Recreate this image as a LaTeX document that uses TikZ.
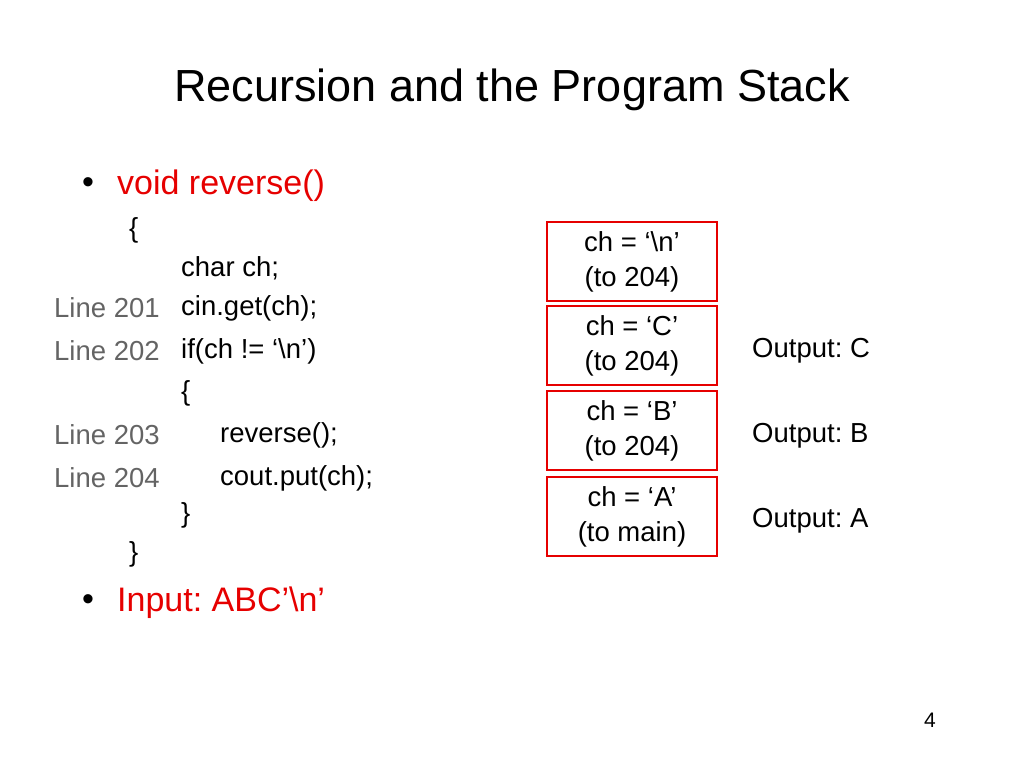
\documentclass[tikz,border=0pt]{standalone}
\usepackage{fontspec}
\setmainfont{Liberation Sans}
\frenchspacing
\definecolor{pred}{RGB}{230,0,0}
\definecolor{lgray}{RGB}{100,100,100}
\begin{document}
\begin{tikzpicture}[x=1pt,y=-1pt,
  code/.style={anchor=west,inner sep=0,font=\fontsize{27.5}{30}\selectfont},
  lbl/.style={code,text=lgray},
  red/.style={anchor=west,inner sep=0,text=pred,font=\fontsize{34}{38}\selectfont},
  frame/.style={draw=pred,line width=2.5pt,minimum width=170,minimum height=79,align=center,inner sep=0,font=\fontsize{27.5}{35}\selectfont},
  outl/.style={code}]
\useasboundingbox (0,0) rectangle (1024,768);
\node[inner sep=0,font=\fontsize{45}{48}\selectfont] (title) at (512,90) {Recursion and the Program Stack};
\node[red,text=black] (b1) at (82,186) {\textbullet};
\node[red] (v) at (117,186) {void reverse()};
\node[code] (o1) at (129,230) {\{};
\node[code] (c1) at (181,268) {char ch;};
\node[lbl] (l201) at (54,308) {Line 201};
\node[code] (c2) at (181,308) {cin.get(ch);};
\node[lbl] (l202) at (54,351) {Line 202};
\node[code] (c3) at (181,351) {if(ch != ‘\textbackslash n’)};
\node[code] (o2) at (181,393) {\{};
\node[lbl] (l203) at (54,435) {Line 203};
\node[code] (c4) at (220,435) {reverse();};
\node[lbl] (l204) at (54,478) {Line 204};
\node[code] (c5) at (220,478) {cout.put(ch);};
\node[code] (e2) at (181,515) {\}};
\node[code] (e1) at (129,554) {\}};
\node[red,text=black] (b2) at (82,603) {\textbullet};
\node[red] (inp) at (117,603) {Input: ABC’\textbackslash n’};
\node[frame] (s1) at (632,261.5) {\raisebox{-3pt}{\parbox{160pt}{\centering ch = ‘\textbackslash n’\\(to 204)}}};
\node[frame] (s2) at (632,345.5) {\raisebox{-3pt}{\parbox{160pt}{\centering ch = ‘C’\\(to 204)}}};
\node[frame] (s3) at (632,430.5) {\raisebox{-3pt}{\parbox{160pt}{\centering ch = ‘B’\\(to 204)}}};
\node[frame] (s4) at (632,516.5) {\raisebox{-3pt}{\parbox{160pt}{\centering ch = ‘A’\\(to main)}}};
\node[outl] (oc) at (752,351) {Output: C};
\node[outl] (ob) at (752,436) {Output: B};
\node[outl] (oa) at (752,521) {Output: A};
\node[inner sep=0,font=\fontsize{21}{23}\selectfont] (pg) at (930,720) {4};
\end{tikzpicture}
\end{document}
